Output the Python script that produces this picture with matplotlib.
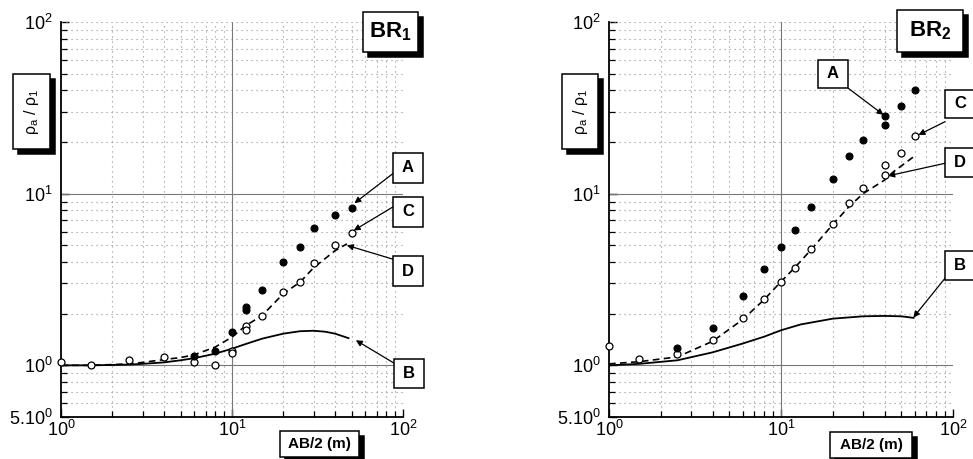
import numpy as np
import matplotlib
matplotlib.use("Agg")
import matplotlib.pyplot as plt
from matplotlib import ticker
from matplotlib.patches import Rectangle

plt.rcParams['font.family'] = ['Liberation Sans', 'DejaVu Sans']
plt.rcParams['mathtext.fontset'] = 'custom'
plt.rcParams['mathtext.rm'] = 'Liberation Sans'
plt.rcParams['mathtext.it'] = 'Liberation Sans:italic'
plt.rcParams['mathtext.bf'] = 'Liberation Sans:bold'

# ---------------- data ----------------
x_ticks = [1, 10, 100]
x_tick_labels = ['$10^0$', '$10^1$', '$10^2$']
y_ticks = [0.5, 1, 10, 100]
y_tick_labels = ['$5.10^0$', '$10^0$', '$10^1$', '$10^2$']

# BR1
br1_A_x = [6, 8, 10, 12, 12, 15, 20, 25, 30, 40, 50]
br1_A_y = [1.14, 1.21, 1.56, 2.19, 2.11, 2.73, 3.99, 4.88, 6.3, 7.55, 8.25]
br1_C_x = [1, 1.5, 2.5, 4, 6, 8, 10, 10, 12, 12, 15, 20, 25, 30, 40, 50]
br1_C_y = [1.045, 1.0, 1.08, 1.12, 1.04, 1.0, 1.21, 1.18, 1.70, 1.61, 1.95, 2.67, 3.05, 3.94, 5.04, 5.88]
br1_D_x = [1, 1.5, 2, 2.5, 3, 4, 5, 6, 8, 10, 12, 15, 20, 25, 30, 40, 47]
br1_D_y = [1.0, 1.0, 1.01, 1.02, 1.04, 1.08, 1.11, 1.15, 1.28, 1.46, 1.70, 1.95, 2.62, 3.05, 3.70, 4.65, 5.1]
br1_B_x = [1, 1.5, 2, 2.5, 3, 4, 5, 6, 8, 10, 12, 15, 20, 25, 30, 35, 40, 48]
br1_B_y = [1.0, 1.0, 1.005, 1.01, 1.02, 1.04, 1.07, 1.10, 1.17, 1.25, 1.33, 1.43, 1.53, 1.58, 1.59, 1.57, 1.53, 1.44]

# BR2
br2_A_x = [2.5, 4, 6, 8, 10, 12, 15, 20, 25, 30, 40, 40, 50, 60]
br2_A_y = [1.26, 1.66, 2.53, 3.64, 4.88, 6.16, 8.4, 12.2, 16.5, 20.5, 28.4, 25.0, 32.5, 40.4]
br2_C_x = [1, 1.5, 2.5, 4, 6, 8, 10, 12, 15, 20, 25, 30, 40, 40, 50, 60]
br2_C_y = [1.29, 1.09, 1.17, 1.40, 1.88, 2.44, 3.06, 3.69, 4.75, 6.67, 8.8, 10.8, 14.6, 12.9, 17.2, 21.6]
br2_D_x = [1, 1.5, 2.5, 4, 6, 8, 10, 12, 15, 20, 25, 30, 40, 45, 59]
br2_D_y = [1.02, 1.05, 1.12, 1.38, 1.85, 2.42, 3.07, 3.7, 4.73, 6.62, 8.45, 10.0, 12.0, 13.4, 16.4]
br2_B_x = [1, 1.5, 2.5, 4, 6, 8, 10, 13, 20, 30, 40, 50, 59]
br2_B_y = [1.0, 1.02, 1.07, 1.19, 1.34, 1.47, 1.60, 1.73, 1.87, 1.93, 1.94, 1.93, 1.89]

panels = [
    dict(name=r'BR$_\mathbf{1}$', A=(br1_A_x, br1_A_y), C=(br1_C_x, br1_C_y),
         D=(br1_D_x, br1_D_y), B=(br1_B_x, br1_B_y)),
    dict(name=r'BR$_\mathbf{2}$', A=(br2_A_x, br2_A_y), C=(br2_C_x, br2_C_y),
         D=(br2_D_x, br2_D_y), B=(br2_B_x, br2_B_y)),
]

# ---------------- layout ----------------
W, H = 973, 459
fig = plt.figure(figsize=(W / 100, H / 100), dpi=100)


def fx(px):
    return px / W


def fy(py):
    return 1 - py / H


axes_px = [(61, 403), (609, 953)]
top_px, bot_px = 22, 417

layout = [
    dict(title=(363, 12, 418, 52), ylab=(13, 74, 50, 149), xlab=(280, 431, 359, 457),
         A=(393, 153, 423, 183), C=(393, 197, 423, 227), D=(393, 256, 423, 286), B=(394, 359, 424, 388),
         arrows=dict(A=((393.3, 173.3), (52, 8.8)), C=((393.3, 206.7), (51.5, 6.1)),
                     D=((393.3, 259.3), (47, 5.0)), B=((394.3, 363.3), (53, 1.40)))),
    dict(title=(897, 10, 963, 52), ylab=(562, 74, 598, 149), xlab=(830, 432, 912, 458),
         A=(818, 60, 848, 88), C=(945, 90, 975, 118), D=(945, 148, 975, 177), B=(945, 251, 975, 280),
         arrows=dict(A=((848.3, 88.3), (39.4, 28.8)), C=((945, 121.7), (63, 22.0)),
                     D=((945, 163.3), (42, 12.7)), B=((945, 278.3), (58.8, 1.90)))),
]


def add_box(rect, text, size, weight='bold', shadow=0, rotation=0, lw=1.0):
    x0, y0, x1, y1 = rect
    if shadow:
        fig.add_artist(Rectangle((fx(x0 + shadow), fy(y1 + shadow)), fx(x1 - x0), fy(y0) - fy(y1),
                                 transform=fig.transFigure, facecolor='black', edgecolor='black',
                                 lw=lw, zorder=5))
    fig.add_artist(Rectangle((fx(x0), fy(y1)), fx(x1 - x0), fy(y0) - fy(y1),
                             transform=fig.transFigure, facecolor='white', edgecolor='black',
                             lw=lw, zorder=6))
    fig.text(fx((x0 + x1) / 2), fy((y0 + y1) / 2), text, ha='center', va='center',
             fontsize=size, fontweight=weight, rotation=rotation, zorder=7)


for (xl, xr), panel, lay in zip(axes_px, panels, layout):
    ax = fig.add_axes([fx(xl), fy(bot_px), fx(xr) - fx(xl), fy(top_px) - fy(bot_px)])
    ax.set_xscale('log')
    ax.set_yscale('log')
    ax.set_xlim(1, 100)
    ax.set_ylim(0.5, 100)
    ax.spines['top'].set_visible(False)
    ax.spines['right'].set_visible(False)
    for s in ('left', 'bottom'):
        ax.spines[s].set_linewidth(1.3)
    ax.xaxis.set_major_locator(ticker.FixedLocator(x_ticks))
    ax.xaxis.set_major_formatter(ticker.FixedFormatter(x_tick_labels))
    ax.yaxis.set_major_locator(ticker.FixedLocator(y_ticks))
    ax.yaxis.set_major_formatter(ticker.FixedFormatter(y_tick_labels))
    ax.xaxis.set_minor_locator(ticker.LogLocator(base=10, subs=np.arange(2, 10)))
    ax.yaxis.set_minor_locator(ticker.LogLocator(base=10, subs=np.arange(2, 10)))
    ax.xaxis.set_minor_formatter(ticker.NullFormatter())
    ax.yaxis.set_minor_formatter(ticker.NullFormatter())
    ax.tick_params(which='both', direction='in', top=False, right=False)
    ax.tick_params(which='major', length=6, width=1.0, labelsize=13)
    ax.tick_params(which='minor', length=4, width=0.9)
    ax.tick_params(axis='x', which='major', pad=2)
    ax.tick_params(axis='y', which='major', pad=6)

    dot = (0, (1, 3.5))
    ax.grid(which='minor', ls=dot, color='#909090', lw=0.8)
    ax.axvline(10, color='#777777', lw=0.8, zorder=1)
    ax.axhline(1, color='#777777', lw=0.8, zorder=1)
    ax.axhline(10, color='#777777', lw=0.8, zorder=1)
    ax.axhline(100, ls=dot, color='#909090', lw=0.8, zorder=1)
    ax.set_axisbelow(True)

    bx, by = panel['B']
    ax.plot(bx, by, color='black', lw=1.3, zorder=3)
    dx, dy = panel['D']
    ax.plot(dx, dy, color='black', lw=1.2, dashes=(4, 2.6), zorder=3)
    cx, cy = panel['C']
    ax.plot(cx, cy, ls='none', marker='o', ms=5, mfc='white', mec='black', mew=0.9,
            zorder=4, clip_on=False)
    axx, axy = panel['A']
    ax.plot(axx, axy, ls='none', marker='o', ms=5, mfc='black', mec='black', mew=0.8,
            zorder=4, clip_on=False)

    for key, (start, tip) in lay['arrows'].items():
        ax.annotate('', xy=tip, xycoords='data', xytext=(fx(start[0]), fy(start[1])),
                    textcoords='figure fraction',
                    arrowprops=dict(arrowstyle='-|>', color='black', lw=0.9,
                                    mutation_scale=9, shrinkA=0, shrinkB=0))

    add_box(lay['title'], panel['name'], 16, shadow=5, lw=1.1)
    add_box(lay['ylab'], r'ρ$_\mathrm{a}$ / ρ$_\mathrm{1}$', 11.5, weight='normal',
            shadow=5, rotation=90, lw=1.1)
    add_box(lay['xlab'], 'AB/2 (m)', 11, shadow=5, lw=1.1)
    for key in ('A', 'C', 'D', 'B'):
        add_box(lay[key], key, 12, lw=1.1)

fig.savefig('out.png', dpi=100)
